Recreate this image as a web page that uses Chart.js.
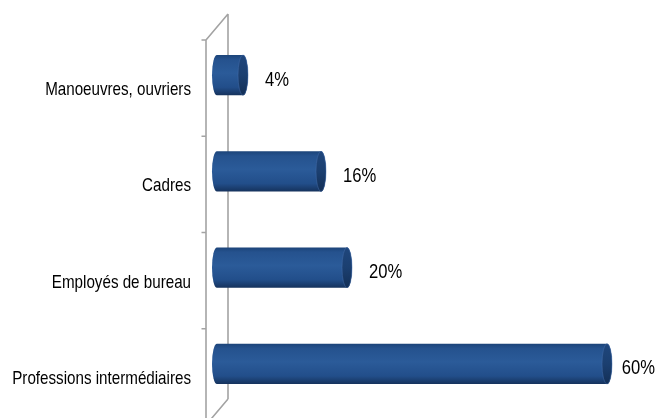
<!DOCTYPE html>
<html>
<head>
<meta charset="utf-8">
<script src="https://cdn.jsdelivr.net/npm/chart.js@4/dist/chart.umd.min.js"></script>
<style>
  html, body { margin: 0; padding: 0; overflow: hidden; background: #ffffff; }
  canvas { display: block; }
</style>
</head>
<body>
<canvas id="c" width="658" height="428" style="width:658px;height:428px"></canvas>
<script>
const categories = ['Manoeuvres, ouvriers', 'Cadres', 'Employés de bureau', 'Professions intermédiaires'];
const values = [4, 16, 20, 60];
const valueLabels = ['4%', '16%', '20%', '60%'];
const axisMax = 68;

const DEPTH_X = 22, DEPTH_Y = 26;

const cylinderPlugin = {
  id: 'cylinder3d',
  beforeDatasetsDraw(chart) {
    const ctx = chart.ctx;
    const a = chart.chartArea;
    const n = chart.data.labels.length;
    ctx.save();
    ctx.strokeStyle = '#a3a3a3';
    ctx.lineWidth = 1.6;
    ctx.beginPath();
    ctx.moveTo(a.left, a.top); ctx.lineTo(a.left, a.bottom);
    ctx.moveTo(a.left + DEPTH_X, a.top - DEPTH_Y); ctx.lineTo(a.left + DEPTH_X, a.bottom - DEPTH_Y);
    ctx.moveTo(a.left, a.top); ctx.lineTo(a.left + DEPTH_X, a.top - DEPTH_Y);
    ctx.moveTo(a.left, a.bottom); ctx.lineTo(a.left + DEPTH_X, a.bottom - DEPTH_Y);
    for (let i = 0; i <= n; i++) {
      const y = a.top + i * (a.bottom - a.top) / n;
      ctx.moveTo(a.left - 4.5, y); ctx.lineTo(a.left, y);
    }
    ctx.stroke();

    const ys = chart.scales.y;
    ctx.fillStyle = '#000000';
    ctx.font = '18.5px "Liberation Sans", Arial, sans-serif';
    ctx.textBaseline = 'middle';
    ctx.textAlign = 'right';
    const sx = 0.82;
    chart.data.labels.forEach((lab, i) => {
      const y = ys.getPixelForValue(i);
      const xr = a.left - 15;
      ctx.save();
      ctx.translate(xr, y + 2);
      ctx.scale(sx, 1);
      ctx.fillText(lab, 0, 0);
      ctx.restore();
    });
    ctx.restore();
  },
  afterDatasetsDraw(chart) {
    const ctx = chart.ctx;
    const meta = chart.getDatasetMeta(0);
    const W = chart.width;
    ctx.save();
    meta.data.forEach((el, i) => {
      const p = el.getProps(['x', 'y', 'base', 'height'], true);
      const x0 = p.base + DEPTH_X / 2;
      const x1 = p.x + DEPTH_X / 2;
      const cy = p.y - DEPTH_Y / 2;
      const ry = p.height / 2;
      const rx = 5;
      const g = ctx.createLinearGradient(0, cy - ry, 0, cy + ry);
      g.addColorStop(0, '#1c4479');
      g.addColorStop(0.12, '#25528e');
      g.addColorStop(0.45, '#2b5b99');
      g.addColorStop(0.8, '#224e8a');
      g.addColorStop(1, '#15325c');
      ctx.beginPath();
      ctx.moveTo(x0, cy - ry);
      ctx.lineTo(x1, cy - ry);
      ctx.ellipse(x1, cy, rx, ry, 0, -Math.PI / 2, Math.PI / 2, false);
      ctx.lineTo(x0, cy + ry);
      ctx.ellipse(x0, cy, rx, ry, 0, Math.PI / 2, Math.PI * 1.5, false);
      ctx.closePath();
      ctx.fillStyle = g;
      ctx.fill();
      const gc = ctx.createLinearGradient(0, cy - ry, 0, cy + ry);
      gc.addColorStop(0, '#1f467c');
      gc.addColorStop(0.5, '#1b3f70');
      gc.addColorStop(1, '#132f56');
      ctx.beginPath();
      ctx.ellipse(x1, cy, rx, ry, 0, 0, Math.PI * 2);
      ctx.fillStyle = gc;
      ctx.fill();
      ctx.strokeStyle = 'rgba(70,110,170,0.6)';
      ctx.lineWidth = 0.8;
      ctx.stroke();

      ctx.font = '20px "Liberation Sans", Arial, sans-serif';
      ctx.fillStyle = '#000000';
      ctx.textBaseline = 'middle';
      ctx.textAlign = 'left';
      const lsx = 0.83;
      const txt = valueLabels[i];
      const tw = ctx.measureText(txt).width * lsx;
      const lx = Math.min(x1 + rx + 17, W - tw - 3);
      ctx.save();
      ctx.translate(lx, cy + 5);
      ctx.scale(lsx, 1);
      ctx.fillText(txt, 0, 0);
      ctx.restore();
    });
    ctx.restore();
  }
};

new Chart(document.getElementById('c'), {
  type: 'bar',
  data: {
    labels: categories,
    datasets: [{
      data: values,
      backgroundColor: 'rgba(0,0,0,0)',
      borderWidth: 0,
      categoryPercentage: 1.0,
      barPercentage: 0.42
    }]
  },
  options: {
    indexAxis: 'y',
    responsive: false,
    animation: false,
    layout: { padding: { left: 0, top: 40, right: 10, bottom: 3 } },
    plugins: { legend: { display: false }, tooltip: { enabled: false } },
    scales: {
      x: { display: false, min: 0, max: axisMax },
      y: {
        grid: { display: false, drawTicks: false },
        border: { display: false },
        ticks: { display: false },
        afterFit(scale) { scale.width = 206; }
      }
    }
  },
  plugins: [cylinderPlugin]
});
</script>
</body>
</html>
